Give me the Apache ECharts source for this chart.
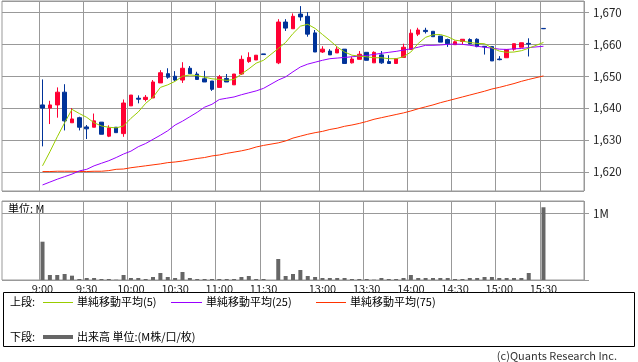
<!DOCTYPE html>
<html>
<head>
<meta charset="utf-8">
<script src="https://cdn.jsdelivr.net/npm/echarts@6/dist/echarts.min.js"></script>
<style>
html,body{margin:0;padding:0;background:#fff;}
#c{width:638px;height:362px;}
</style>
</head>
<body>
<div id="c"></div>
<script>
// ---- data (5-minute bars, one slot per bar; '' = lunch gap slot) ----
const slotTimes = ['9:00','9:05','9:10','9:15','9:20','9:25','9:30','9:35','9:40','9:45','9:50','9:55',
 '10:00','10:05','10:10','10:15','10:20','10:25','10:30','10:35','10:40','10:45','10:50','10:55',
 '11:00','11:05','11:10','11:15','11:20','11:25','11:30','',
 '12:30','12:35','12:40','12:45','12:50','12:55','13:00','13:05','13:10','13:15','13:20','13:25',
 '13:30','13:35','13:40','13:45','13:50','13:55','14:00','14:05','14:10','14:15','14:20','14:25',
 '14:30','14:35','14:40','14:45','14:50','14:55','15:00','15:05','15:10','15:15','15:20','15:25','15:30'];
const tickLabels = ['9:00','9:30','10:00','10:30','11:00','11:30','13:00','13:30','14:00','14:30','15:00','15:30'];

const opens  = [1641,1640,1641,1645,1635.4,1637,1634.1,1634,1635.6,1631.2,1634,1632,1640.7,1643.1,1642.7,1643.2,1647.9,1650.8,1650,1648.8,1652.5,1650.7,1649.2,1648.5,1646.5,1649.3,1647.3,1650.7,1654.6,1655.1,1657,null,
 1654.2,1667,1664.9,1669.5,1668.8,1663.6,1657.6,1657.9,1657.3,1658.5,1654.2,1655.3,1657.5,1654.2,1656.7,1654.6,1654,1655.9,1658.4,1663.2,1664.4,1664.1,1662.6,1661.5,1659.9,1660.9,1661.5,1661.6,1659.4,1659.3,1655.4,1655.8,1658.5,1659.1,1660.3,null,1665];
const closes = [1640,1641,1645,1636,1636.6,1634,1633.5,1636,1631.8,1633.8,1632.3,1641.6,1644.1,1642.8,1643.4,1648.2,1651.1,1649.7,1648.8,1652.5,1650.8,1649,1648.2,1645.9,1649.8,1648.2,1650.7,1655.3,1655.9,1656.6,1656.8,null,
 1667,1665.1,1668.8,1668.6,1663.2,1657.6,1658.5,1656.7,1658.5,1654,1655.4,1656.9,1655,1657.5,1654.2,1654,1655.5,1659.1,1663.5,1664.5,1664,1662.4,1660.7,1660.2,1660.8,1661.6,1660.2,1659.3,1659.2,1654.8,1655.2,1658.4,1660.2,1660.5,1660.1,null,1664.9];
const lows   = [1628,1635,1637,1633,1635.4,1633,1630.3,1634,1631.8,1630.9,1632.3,1631,1640.7,1641.5,1642.1,1643.2,1647.9,1649.2,1648.5,1647.9,1650.8,1649,1648.2,1645.4,1646.5,1648.2,1647.3,1650.4,1654.2,1655.1,1656.8,null,
 1653.8,1664.2,1664.9,1667.4,1662.4,1657.6,1657.3,1656.7,1657.3,1654,1654,1655.3,1655,1654.2,1653.9,1654,1654,1655.9,1658.4,1662.6,1663.4,1662.4,1660.7,1659.2,1659.9,1660,1660,1659.1,1656.8,1654.8,1655,1655.8,1658,1659.1,1656.2,null,1664.8];
const highs  = [1649,1642.3,1646.5,1647.5,1640,1637.3,1634.7,1638.3,1635.6,1634.6,1634,1642.7,1644.1,1644,1644.1,1648.8,1651.9,1652.5,1651.6,1654.4,1653.2,1651.4,1651.7,1648.5,1650.4,1650.7,1650.7,1656.5,1657.5,1656.6,1657,null,
 1667.9,1667.9,1669.7,1672,1670.1,1664.5,1659.4,1658.5,1659.4,1658.5,1656.1,1657.9,1657.5,1657.8,1657.9,1656.6,1655.5,1660.2,1664.7,1665.2,1665.2,1664.1,1662.6,1661.8,1661.2,1661.6,1661.9,1661.9,1659.4,1659.3,1656.3,1658.4,1660.2,1660.5,1661.9,null,1665];

const ma5  = [1621.9,1626.3,1631,1635.4,1639.6,1638.3,1637.1,1635.4,1634.4,1634,1633.8,1634.4,1636.8,1638.8,1641.5,1643.4,1646.5,1647.3,1648.4,1650,1650.4,1650.2,1649.7,1649.2,1649,1648.7,1649,1650.7,1652.3,1654.1,1655,null,
 1658.7,1660.6,1663.4,1665.7,1666.3,1665,1663.1,1661.2,1659.2,1657.6,1656.6,1656.3,1656.1,1655.8,1655.8,1655.5,1655.5,1656.1,1657.6,1660.3,1662.2,1663,1663.1,1662.4,1661.3,1661,1660.6,1660.3,1660.2,1658.9,1657.9,1657.5,1657.6,1658,1658.8,null,1660.6];
const ma25 = [1615.9,1616.8,1617.7,1618.5,1619.3,1620.3,1620.8,1621.9,1622.7,1623.5,1624.5,1625.6,1626.5,1627.9,1628.9,1630.2,1631.5,1632.9,1634.7,1635.9,1637.3,1638.7,1640.3,1641.2,1642.7,1643.1,1643.5,1644.2,1644.8,1645.4,1646.2,null,
 1648.8,1649.8,1651.4,1652.9,1653.8,1654.4,1655,1655.5,1655.7,1655.9,1656.1,1656.3,1656.5,1656.85,1657.2,1657.5,1657.8,1658.2,1658.6,1659.1,1659.7,1659.7,1659.8,1660,1660.1,1660,1659.7,1659.4,1659.1,1658.8,1658.5,1658.4,1658.6,1658.7,1659,null,1659.4];
const ma75 = [1620.1,1620.1,1620.2,1620.2,1620.2,1620.1,1620.1,1620.2,1620.2,1620.4,1620.8,1620.9,1621.3,1621.6,1621.9,1622.2,1622.5,1622.9,1623.1,1623.4,1623.8,1624.2,1624.5,1625,1625.3,1625.8,1626.2,1626.6,1627.1,1627.8,1628.3,null,
 1629.1,1629.7,1630.6,1631.2,1631.8,1632.3,1632.7,1633.3,1633.7,1634.3,1634.7,1635.2,1635.8,1636.5,1637,1637.5,1638,1638.5,1639.1,1639.8,1640.4,1641,1641.7,1642.3,1642.9,1643.5,1644.1,1644.7,1645.3,1646,1646.5,1647.1,1647.7,1648.4,1649,null,1650.1];

const volumes = [0.574,0.075,0.075,0.09,0.065,0.015,0.03,0.03,0.015,0.015,0.005,0.075,0.03,0.03,0.015,0.045,0.105,0.045,0.03,0.12,0.03,0.015,0.015,0.015,0.015,0.015,0.015,0.045,0.06,0.015,0.015,null,
 0.315,0.06,0.09,0.15,0.06,0.045,0.03,0.03,0.03,0.03,0.015,0.015,0.015,0.005,0.03,0.015,0.015,0.03,0.075,0.03,0.03,0.03,0.03,0.03,0.015,0.015,0.03,0.03,0.045,0.045,0.03,0.03,0.03,0.03,0.105,null,1.09];

// ---- build padded series (empty slots before 9:00 and after 15:30) ----
const PAD_BEFORE = 5, PAD_AFTER = 5;
function pad(arr, fill) {
  return Array(PAD_BEFORE).fill(fill).concat(arr, Array(PAD_AFTER).fill(fill));
}
const cats = pad(slotTimes, '');
const candle = pad(slotTimes.map((t, i) => opens[i] == null ? ['-','-','-','-'] : [opens[i], closes[i], lows[i], highs[i]]), ['-','-','-','-']);
const dash = v => v == null ? '-' : v;
const ma5P = pad(ma5.map(dash), '-');
const ma25P = pad(ma25.map(dash), '-');
const ma75P = pad(ma75.map(dash), '-');
const volP = pad(volumes.map(dash), '-');

const FONT = '"Noto Sans CJK JP", "Noto Sans", sans-serif';
const GRID = '#999999';
const isTick = (idx, val) => tickLabels.indexOf(val) >= 0;

const chart = echarts.init(document.getElementById('c'), null, {renderer: 'canvas'});
const xCommon = {
  type: 'category', data: cats, boundaryGap: true,
  axisLine: {show: false}, axisTick: {show: false},
  splitLine: {show: true, interval: isTick, lineStyle: {color: GRID, width: 1}}
};
chart.setOption({
  animation: false,
  textStyle: {fontFamily: FONT},
  grid: [
    {left: 2, top: 1, width: 582, height: 190, show: true, borderColor: GRID, borderWidth: 1, containLabel: false},
    {left: 2, top: 201, width: 582, height: 79, show: true, borderColor: GRID, borderWidth: 1, containLabel: false}
  ],
  xAxis: [
    Object.assign({gridIndex: 0, axisLabel: {show: false}}, xCommon),
    Object.assign({gridIndex: 1, axisLabel: {show: true, interval: isTick, margin: 3, color: '#222', fontSize: 11, fontFamily: FONT}}, xCommon)
  ],
  yAxis: [
    {gridIndex: 0, type: 'value', position: 'right', min: 1614, max: 1673.6, splitNumber: 6, scale: true,
     axisLine: {show: false},
     axisTick: {show: true, length: 5, lineStyle: {color: GRID}},
     axisLabel: {margin: 9, color: '#222', fontSize: 11.5, fontFamily: FONT, showMinLabel: false, showMaxLabel: false,
       formatter: v => (v % 10 === 0 ? v.toLocaleString('en-US') : '')},
     splitLine: {show: true, lineStyle: {color: GRID, width: 1}}},
    {gridIndex: 1, type: 'value', position: 'right', min: 0, max: 1.184, interval: 1,
     axisLine: {show: false},
     axisTick: {show: true, length: 5, lineStyle: {color: GRID}},
     axisLabel: {margin: 9, color: '#222', fontSize: 11.5, fontFamily: FONT, showMaxLabel: false,
       formatter: v => (v === 1 ? '1M' : '')},
     splitLine: {show: true, lineStyle: {color: GRID, width: 1}}}
  ],
  series: [
    {type: 'candlestick', xAxisIndex: 0, yAxisIndex: 0, data: candle, barWidth: 4,
     itemStyle: {color: '#ff0033', color0: '#003399', borderColor: '#ff0033', borderColor0: '#003399', borderWidth: 1}},
    {type: 'line', xAxisIndex: 0, yAxisIndex: 0, data: ma75P, symbol: 'none', connectNulls: true, z: 3,
     lineStyle: {color: '#ff3300', width: 1}},
    {type: 'line', xAxisIndex: 0, yAxisIndex: 0, data: ma25P, symbol: 'none', connectNulls: true, z: 3,
     lineStyle: {color: '#9900ff', width: 1}},
    {type: 'line', xAxisIndex: 0, yAxisIndex: 0, data: ma5P, symbol: 'none', connectNulls: true, z: 3,
     lineStyle: {color: '#99cc00', width: 1}},
    {type: 'bar', xAxisIndex: 1, yAxisIndex: 1, data: volP, barWidth: 4, itemStyle: {color: '#666666'}}
  ],
  graphic: [
    {type: 'text', left: 8, top: 203, style: {text: '単位: M', fill: '#000', font: '11px ' + FONT}},
    {type: 'rect', shape: {x: 3.5, y: 292.5, width: 631, height: 54}, style: {fill: 'none', stroke: '#000', lineWidth: 1}},
    {type: 'text', x: 10, y: 302, style: {text: '上段:', fill: '#000', font: '11px ' + FONT, verticalAlign: 'middle'}},
    {type: 'line', shape: {x1: 43, y1: 302.5, x2: 73, y2: 302.5}, style: {stroke: '#99cc00', lineWidth: 1}},
    {type: 'text', x: 77, y: 302, style: {text: '単純移動平均(5)', fill: '#000', font: '11px ' + FONT, verticalAlign: 'middle'}},
    {type: 'line', shape: {x1: 171, y1: 302.5, x2: 202, y2: 302.5}, style: {stroke: '#9900ff', lineWidth: 1}},
    {type: 'text', x: 206, y: 302, style: {text: '単純移動平均(25)', fill: '#000', font: '11px ' + FONT, verticalAlign: 'middle'}},
    {type: 'line', shape: {x1: 316, y1: 302.5, x2: 346, y2: 302.5}, style: {stroke: '#ff3300', lineWidth: 1}},
    {type: 'text', x: 350, y: 302, style: {text: '単純移動平均(75)', fill: '#000', font: '11px ' + FONT, verticalAlign: 'middle'}},
    {type: 'text', x: 10, y: 337, style: {text: '下段:', fill: '#000', font: '11px ' + FONT, verticalAlign: 'middle'}},
    {type: 'line', shape: {x1: 43, y1: 337, x2: 73, y2: 337}, style: {stroke: '#666666', lineWidth: 4}},
    {type: 'text', x: 77, y: 337, style: {text: '出来高 単位:(M株/口/枚)', fill: '#000', font: '11px ' + FONT, verticalAlign: 'middle'}},
    {type: 'text', x: 617, y: 356, style: {text: '(c)Quants Research Inc.', fill: '#333', font: '11px ' + FONT, align: 'right', verticalAlign: 'middle'}}
  ]
});
</script>
</body>
</html>
